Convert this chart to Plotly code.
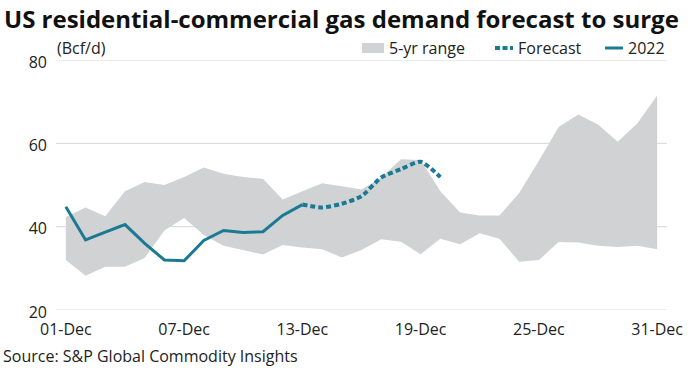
import plotly.graph_objects as go

days = list(range(1, 32))
tick_vals = [1, 7, 13, 19, 25, 31]
tick_text = ["01-Dec", "07-Dec", "13-Dec", "19-Dec", "25-Dec", "31-Dec"]
y_ticks = [20, 40, 60, 80]

range_upper = [42.3, 44.6, 42.5, 48.5, 50.7, 50.0, 51.9, 54.2, 52.7, 51.9, 51.5,
               46.5, 48.5, 50.4, 49.7, 48.9, 51.8, 56.2, 56.0, 48.5, 43.4, 42.7,
               42.7, 48.1, 55.8, 63.9, 66.9, 64.5, 60.4, 64.8, 71.5]
range_lower = [32.0, 28.2, 30.4, 30.4, 32.5, 39.1, 42.1, 38.0, 35.4, 34.4, 33.3,
               35.6, 35.0, 34.6, 32.6, 34.4, 37.0, 36.4, 33.4, 37.1, 35.8, 38.4,
               37.1, 31.6, 32.0, 36.3, 36.2, 35.4, 35.1, 35.4, 34.6]

days_2022 = list(range(1, 14))
values_2022 = [44.8, 36.8, 38.7, 40.5, 36.0, 32.0, 31.8, 36.7, 39.1, 38.6, 38.8, 42.7, 45.3]

days_fc = list(range(13, 21))
values_fc = [45.3, 44.6, 45.5, 47.3, 51.8, 53.8, 55.6, 51.9]

TEAL = "#1b7a93"
GRAY = "#d1d2d4"
GRID = "#d6d6d6"
FONT = "Open Sans"

fig = go.Figure()
fig.add_trace(go.Scatter(x=days, y=range_lower, mode="lines", line=dict(width=0),
                         showlegend=False, hoverinfo="skip"))
fig.add_trace(go.Scatter(x=days, y=range_upper, mode="lines", line=dict(width=0),
                         fill="tonexty", fillcolor=GRAY, name="5-yr range", showlegend=False))
fig.add_trace(go.Scatter(x=days_fc, y=values_fc, mode="lines", name="Forecast",
                         line=dict(color=TEAL, width=4, dash="5px,3px", shape="spline", smoothing=0.6),
                         showlegend=False))
fig.add_trace(go.Scatter(x=days_2022, y=values_2022, mode="lines", name="2022",
                         line=dict(color=TEAL, width=3), showlegend=False))

PL, PR, PT, PB = 56, 23, 60, 62
W, H = 690, 372
pw, ph = W - PL - PR, H - PT - PB

def px(x):
    return (x - PL) / pw

def py(y):
    return (H - PB - y) / ph

shapes = [
    dict(type="line", xref="paper", yref="y", x0=0, x1=1, y0=v, y1=v, layer="below",
         line=dict(color=GRID, width=1)) for v in y_ticks
]
shapes += [
    dict(type="rect", xref="paper", yref="paper", x0=px(362), x1=px(384), y0=py(53), y1=py(43),
         fillcolor=GRAY, line=dict(width=0)),
    dict(type="line", xref="paper", yref="paper", x0=px(495), x1=px(513), y0=py(48), y1=py(48),
         line=dict(color=TEAL, width=4, dash="5px,2.5px")),
    dict(type="line", xref="paper", yref="paper", x0=px(605), x1=px(623), y0=py(48), y1=py(48),
         line=dict(color=TEAL, width=3)),
]

txt = dict(family=FONT, size=16, color="#222")
annotations = [
    dict(text="<b>US residential-commercial gas demand forecast to surge</b>", xref="paper",
         yref="paper", x=px(2), y=py(18), xanchor="left", yanchor="middle", showarrow=False,
         font=dict(family=FONT, size=24, color="#111")),
    dict(text="(Bcf/d)", xref="paper", yref="paper", x=px(55), y=py(48), xanchor="left",
         yanchor="middle", showarrow=False, font=txt),
    dict(text="5-yr range", xref="paper", yref="paper", x=px(387), y=py(48), xanchor="left",
         yanchor="middle", showarrow=False, font=txt),
    dict(text="Forecast", xref="paper", yref="paper", x=px(516), y=py(48), xanchor="left",
         yanchor="middle", showarrow=False, font=txt),
    dict(text="2022", xref="paper", yref="paper", x=px(626), y=py(48), xanchor="left",
         yanchor="middle", showarrow=False, font=txt),
    dict(text="Source: S&P Global Commodity Insights", xref="paper", yref="paper", x=px(1),
         y=py(356), xanchor="left", yanchor="middle", showarrow=False, font=txt),
]

fig.update_layout(
    width=W, height=H,
    margin=dict(l=PL, r=PR, t=PT, b=PB, autoexpand=False),
    paper_bgcolor="white", plot_bgcolor="white",
    shapes=shapes, annotations=annotations,
    xaxis=dict(range=[0.5, 31.5], tickvals=tick_vals, ticktext=tick_text, showgrid=False,
               zeroline=False, showline=False, tickfont=dict(family=FONT, size=16, color="#222"),
               ticks="", ticklabelstandoff=8, fixedrange=True),
    yaxis=dict(range=[20, 80], tickvals=y_ticks, showgrid=False, zeroline=False, showline=False,
               tickfont=dict(family=FONT, size=16, color="#222"), ticks="", ticklabelstandoff=8,
               ticklabelshift=2),
    showlegend=False,
)

fig.write_html("out.html", config={"displayModeBar": False},
               post_script="document.body.style.margin='0';document.body.style.overflow='hidden';")
